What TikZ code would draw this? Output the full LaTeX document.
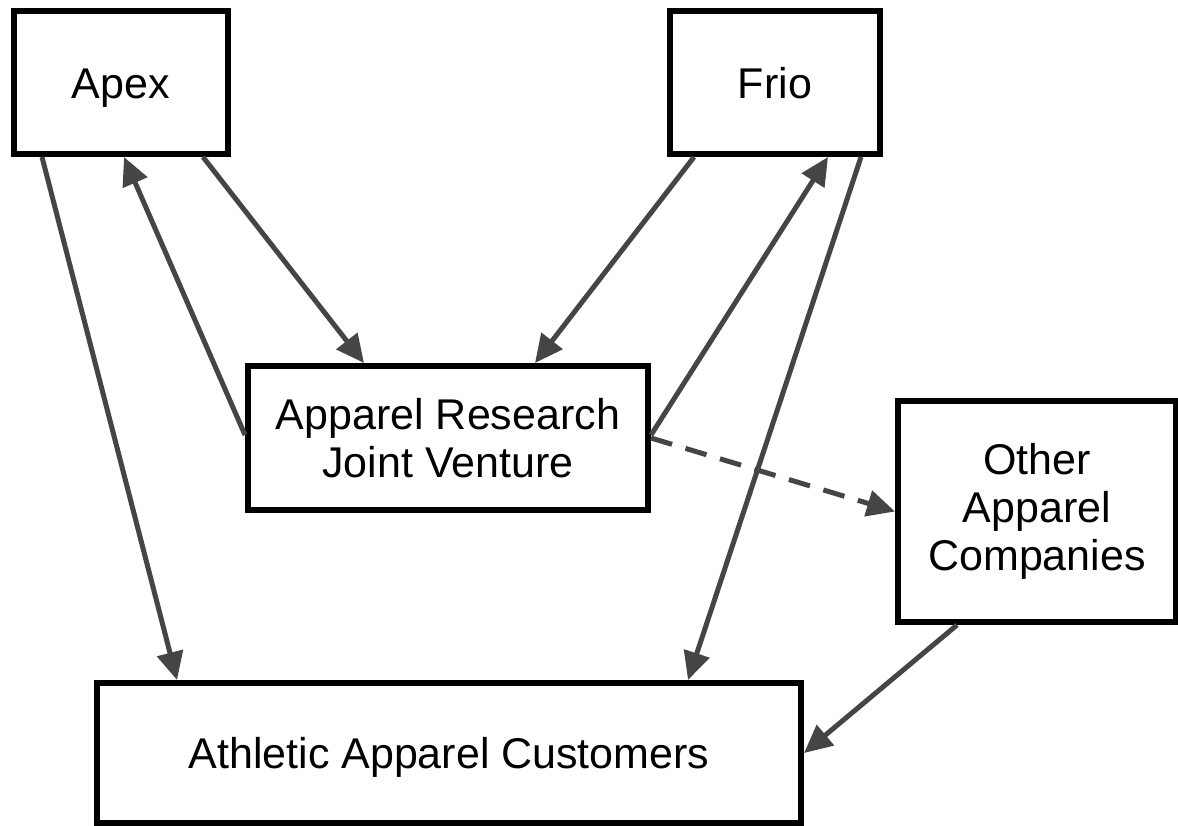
\documentclass[tikz,border=0pt]{standalone}
\usepackage{fontspec}
\setmainfont{Liberation Sans}
\usetikzlibrary{arrows.meta}
\begin{document}
\begin{tikzpicture}[x=1pt,y=-1pt,
    party/.style={draw=black,line width=6pt,rectangle,inner sep=0pt,
      align=center,font=\fontsize{43}{48}\selectfont},
    oneline/.style={text height=31pt,text depth=0pt},
    link/.style={draw=black!73,line width=5pt,
      -{Triangle[length=28pt,width=26pt]}}]
      \useasboundingbox (0,0) rectangle (1178,825);
      \node[party,oneline,minimum width=214pt,minimum height=143pt] (apex) at (121,82.5) {Apex};
      \node[party,oneline,minimum width=210pt,minimum height=143pt] (frio) at (775,82.5) {Frio};
      \node[party,minimum width=400pt,minimum height=144pt] (jv) at (448,438) {Apparel Research\\Joint Venture};
      \node[party,minimum width=278pt,minimum height=221pt] (other) at (1037,511.5) {Other\\Apparel\\Companies};
      \node[party,oneline,minimum width=704pt,minimum height=140pt] (cust) at (449,753) {Athletic Apparel Customers};
      \begin{scope}[link]
        \draw ([xshift=31pt]apex.south west) to ([xshift=83pt]cust.north west);
        \draw ([yshift=3pt]jv.west) to ([xshift=3pt]apex.south);
        \draw ([xshift=-28pt]apex.south east) to ([xshift=119pt]jv.north west);
        \draw ([xshift=27pt]frio.south west) to ([xshift=-116pt]jv.north east);
        \draw ([yshift=3pt]jv.east) to ([xshift=-55pt]frio.south east);
        \draw ([xshift=-22pt]frio.south east) to ([xshift=-116pt]cust.north east);
        \draw[dash pattern=on 22pt off 14pt] (jv.east) to (other.west);
        \draw ([xshift=62pt]other.south west) to (cust.east);
      \end{scope}
    \end{tikzpicture}
\end{document}
